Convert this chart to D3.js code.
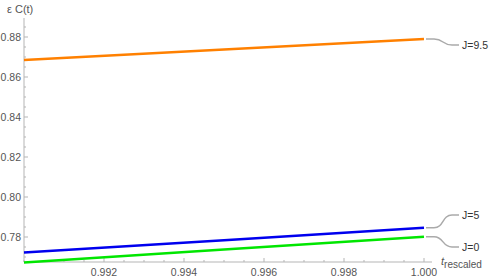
<!DOCTYPE html>
<html>
<head>
<meta charset="utf-8">
<script src="https://cdn.jsdelivr.net/npm/d3@7"></script>
<style>
  body { margin: 0; background: #fff; }
  text { font-family: "Liberation Sans", Arial, sans-serif; }
</style>
</head>
<body>
<div id="chart"></div>
<script>
// data
const tValues = [0.990, 0.995, 1.000];
const seriesNames = ["J=9.5", "J=5", "J=0"];
const seriesJ95 = [0.8685, 0.8738, 0.8790];
const seriesJ5 = [0.7722, 0.7784, 0.7846];
const seriesJ0 = [0.7673, 0.7737, 0.7801];
const seriesColors = ["#ff8000", "#0000ee", "#00e600"];
const labelY = [0.876, 0.791, 0.775]; // where the end labels sit

const xTicks = [0.992, 0.994, 0.996, 0.998, 1.000];
const yTicks = [0.78, 0.80, 0.82, 0.84, 0.86, 0.88];

const width = 498, height = 280;
const svg = d3.select("#chart").append("svg")
  .attr("width", width).attr("height", height);

const x = d3.scaleLinear().domain([0.990, 1.000]).range([24, 424]);
const y = d3.scaleLinear().domain([0.78, 0.88]).range([237, 37]);

const axisColor = "#b5b5b5", tickText = "#555";

// x axis
const yAxisPos = y(0.7675);
svg.append("line")
  .attr("x1", x(0.990)).attr("x2", 432)
  .attr("y1", yAxisPos).attr("y2", yAxisPos)
  .attr("stroke", axisColor);
d3.range(0, 21).forEach(i => {
  const v = 0.990 + i * 0.0005;
  const major = i % 4 === 0 && i > 0;
  svg.append("line")
    .attr("x1", x(v)).attr("x2", x(v))
    .attr("y1", yAxisPos).attr("y2", yAxisPos - (major ? 4 : 2))
    .attr("stroke", axisColor);
});
svg.selectAll("text.xt").data(xTicks).enter().append("text")
  .attr("class", "xt")
  .attr("x", d => x(d)).attr("y", yAxisPos + 14)
  .attr("text-anchor", "middle")
  .style("font-size", "10.5px").style("fill", tickText)
  .text(d => d3.format(".3f")(d));

// y axis
svg.append("line")
  .attr("x1", 24).attr("x2", 24)
  .attr("y1", 18).attr("y2", yAxisPos)
  .attr("stroke", axisColor);
d3.range(-2, 22).forEach(i => {
  const v = 0.78 + i * 0.005;
  const py = y(v);
  if (py < 18 || py > yAxisPos) return;
  const major = i % 4 === 0;
  svg.append("line")
    .attr("x1", 24).attr("x2", 24 + (major ? 4 : 2))
    .attr("y1", py).attr("y2", py)
    .attr("stroke", axisColor);
});
svg.selectAll("text.yt").data(yTicks).enter().append("text")
  .attr("class", "yt")
  .attr("x", 21).attr("y", d => y(d))
  .attr("dy", "0.35em")
  .attr("text-anchor", "end")
  .style("font-size", "10.5px").style("fill", tickText)
  .text(d => d3.format(".2f")(d));

// axis titles
svg.append("text")
  .attr("x", 7).attr("y", 13)
  .style("font-size", "11px").style("fill", tickText)
  .text("\u03b5 C(t)");
const xt = svg.append("text")
  .attr("x", 441).attr("y", 265)
  .style("font-size", "11px").style("fill", tickText);
xt.append("tspan").style("font-style", "italic").text("t");
xt.append("tspan").attr("dy", 3).style("font-size", "10px").text("rescaled");

// lines
const allSeries = [seriesJ95, seriesJ5, seriesJ0];
const line = d3.line().x((d, i) => x(tValues[i])).y(d => y(d));
allSeries.forEach((s, k) => {
  svg.append("path")
    .attr("d", line(s))
    .attr("fill", "none")
    .attr("stroke", seriesColors[k])
    .attr("stroke-width", 2.5);
});

// end labels with curved leaders
allSeries.forEach((s, k) => {
  const x0 = x(1.000) + 2, y0 = y(s[s.length - 1]);
  const x1 = 462, y1 = y(labelY[k]);
  const p = d3.path();
  p.moveTo(x0, y0);
  p.lineTo(x0 + 8, y0);
  p.bezierCurveTo(x0 + 18, y0, x0 + 16, y1, x0 + 26, y1);
  p.lineTo(x1 - 3, y1);
  svg.append("path")
    .attr("d", p.toString())
    .attr("fill", "none")
    .attr("stroke", "#aaa")
    .attr("stroke-width", 1.5);
  svg.append("text")
    .attr("x", x1).attr("y", y1)
    .attr("dy", "0.35em")
    .style("font-size", "10.5px").style("fill", "#333")
    .text(seriesNames[k]);
});
</script>
</body>
</html>
